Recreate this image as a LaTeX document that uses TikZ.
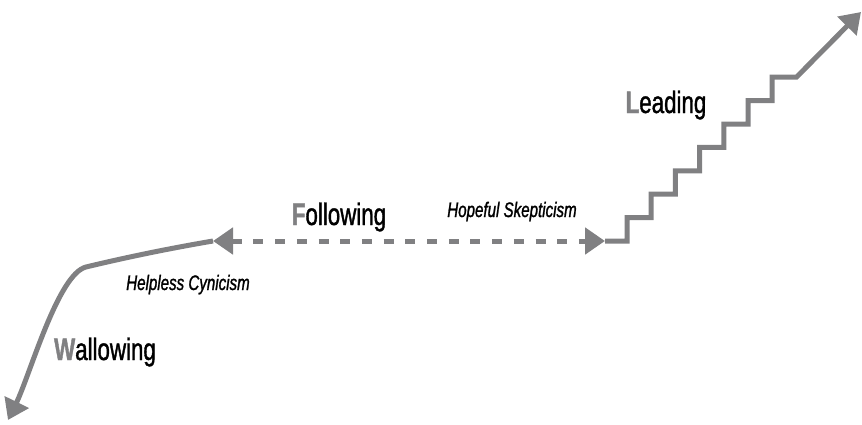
\documentclass[tikz,border=0pt]{standalone}
\usepackage{fontspec}
\setmainfont{Liberation Sans}[FakeStretch=0.72, FakeBold=1.2]
\usetikzlibrary{arrows.meta, positioning}

\definecolor{stagegray}{RGB}{128,128,130}

\begin{document}
\begin{tikzpicture}[
    x=1pt, y=-1pt,
    path/.style={draw=stagegray, line width=5pt, -{Triangle[length=20pt, width=26pt]}},
    dashpath/.style={draw=stagegray, line width=5pt, dash pattern=on 10pt off 11.7pt,
        {Triangle[length=20pt, width=26pt]}-{Triangle[length=20pt, width=26pt]}},
    stage/.style={anchor=base, font=\fontsize{31}{34}\selectfont},
    attitude/.style={anchor=base, font=\fontsize{21}{24}\selectfont\itshape}
]
\useasboundingbox (0,0) rectangle (862,424);

% End points of the three paths
\coordinate (helpless) at (213,241);
\coordinate (hopeful) at (605,241);
\coordinate (sink) at (8,420);
\coordinate (peak) at (861,12);

% Following: dashed line between the two attitudes
\path[dashpath] (helpless) -- (hopeful);

% Wallowing: curve going down
\path[path] (helpless) .. controls (160,250) and (115,260) .. (86,267)
    .. controls (58,274) and (30,375) .. (sink);

% Leading: staircase going up
\path[path, line join=miter] (hopeful) -- ++(22,0)
    \foreach \i in {1,...,7} { -- ++(0,-23.4) -- ++(24.2,0) } -- (peak);

% Labels
\node[stage] (following) at (339,225) {\textcolor{stagegray}{\textbf{F}}ollowing};
\node[stage] (wallowing) at (105,360) {\textcolor{stagegray}{\textbf{W}}allowing};
\node[stage] (leading) at (666,113) {\textcolor{stagegray}{\textbf{L}}eading};
\node[attitude] (skepticism) at (512,217) {Hopeful Skepticism};
\node[attitude] (cynicism) at (188,290) {Helpless Cynicism};

\end{tikzpicture}
\end{document}
